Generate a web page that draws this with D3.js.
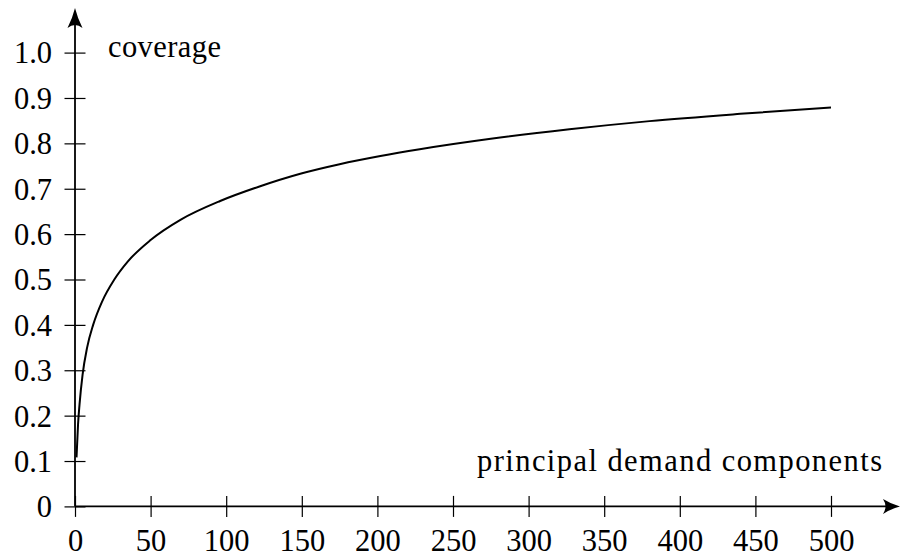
<!DOCTYPE html>
<html>
<head>
<meta charset="utf-8">
<script src="https://cdn.jsdelivr.net/npm/d3@7"></script>
<style>
  html, body { margin: 0; padding: 0; background: #fff; }
  svg { display: block; }
  text { font-family: "Liberation Serif", "DejaVu Serif", serif; fill: #000; }
</style>
</head>
<body>
<div id="chart"></div>
<script>
// number of components vs. share of demand covered
const components = [1, 2, 3, 5, 8, 12, 18, 26, 35, 50, 70, 96, 122, 149, 175, 202, 228, 275, 327, 380, 440, 500];
const coverage = [0.108, 0.18, 0.225, 0.29, 0.35, 0.40, 0.452, 0.50, 0.54, 0.587, 0.632, 0.673, 0.705, 0.733, 0.754, 0.772, 0.787, 0.810, 0.831, 0.849, 0.865, 0.879];

const xTicks = [0, 50, 100, 150, 200, 250, 300, 350, 400, 450, 500];
const yTicks = [0, 0.1, 0.2, 0.3, 0.4, 0.5, 0.6, 0.7, 0.8, 0.9, 1.0];
const yTickLabels = ["0", "0.1", "0.2", "0.3", "0.4", "0.5", "0.6", "0.7", "0.8", "0.9", "1.0"];

(function () {
  const W = 902, H = 558;
  const fontSize = 30.5;
  const tick = 10.5;

  const svg = d3.select("#chart").append("svg")
    .attr("width", W).attr("height", H)
    .attr("viewBox", `0 0 ${W} ${H}`);

  const x = d3.scaleLinear().domain([0, 500]).range([75, 831]);
  const y = d3.scaleLinear().domain([0, 1]).range([506.4, 52.6]);

  const x0 = x(0), y0 = y(0);
  const xEnd = 900, yEnd = 8;

  // axes lines
  svg.append("line")
    .attr("x1", x0).attr("y1", y0).attr("x2", xEnd - 8).attr("y2", y0)
    .attr("stroke", "#000").attr("stroke-width", 1.8);
  svg.append("line")
    .attr("x1", x0).attr("y1", y0).attr("x2", x0).attr("y2", yEnd + 8)
    .attr("stroke", "#000").attr("stroke-width", 1.8);

  // arrow heads
  svg.append("path")
    .attr("d", `M${xEnd},${y0} Q${xEnd - 9},${y0 - 2.5} ${xEnd - 17},${y0 - 7.5}
      Q${xEnd - 12},${y0} ${xEnd - 17},${y0 + 7.5} Q${xEnd - 9},${y0 + 2.5} ${xEnd},${y0} Z`)
    .attr("fill", "#000");
  svg.append("path")
    .attr("d", `M${x0},${yEnd} Q${x0 - 2.5},${yEnd + 10} ${x0 - 7.5},${yEnd + 20}
      Q${x0},${yEnd + 14} ${x0 + 7.5},${yEnd + 20} Q${x0 + 2.5},${yEnd + 10} ${x0},${yEnd} Z`)
    .attr("fill", "#000");

  // x axis ticks + labels
  const xAxis = svg.append("g")
    .attr("transform", `translate(0,${y0})`)
    .call(d3.axisBottom(x).tickValues(xTicks).tickSize(tick).tickFormat(d3.format("d")));
  xAxis.select(".domain").remove();
  xAxis.selectAll(".tick line")
    .attr("y1", -tick).attr("y2", tick)
    .attr("stroke", "#000").attr("stroke-width", 1.2);
  xAxis.selectAll(".tick text")
    .attr("y", 45).attr("dy", 0)
    .attr("font-size", fontSize)
    .attr("font-family", "Liberation Serif, DejaVu Serif, serif")
    .attr("fill", "#000");

  // y axis ticks + labels
  const yAxis = svg.append("g")
    .attr("transform", `translate(${x0},0)`)
    .call(d3.axisLeft(y).tickValues(yTicks).tickSize(tick)
      .tickFormat((d, i) => yTickLabels[i]));
  yAxis.select(".domain").remove();
  yAxis.selectAll(".tick line")
    .attr("x1", -tick).attr("x2", tick)
    .attr("stroke", "#000").attr("stroke-width", 1.2);
  yAxis.selectAll(".tick text")
    .attr("x", -23).attr("dy", "0.34em")
    .attr("font-size", fontSize)
    .attr("font-family", "Liberation Serif, DejaVu Serif, serif")
    .attr("fill", "#000");

  // axis titles
  svg.append("text")
    .attr("x", 108).attr("y", 57)
    .attr("font-size", fontSize)
    .attr("textLength", 113).attr("lengthAdjust", "spacing")
    .text("coverage");
  svg.append("text")
    .attr("x", 477).attr("y", 471)
    .attr("font-size", fontSize)
    .attr("textLength", 405).attr("lengthAdjust", "spacing")
    .text("principal demand components");

  // curve
  const data = components.map((c, i) => ({ c: c, v: coverage[i] }));
  svg.append("path")
    .datum(data)
    .attr("fill", "none")
    .attr("stroke", "#000")
    .attr("stroke-width", 2)
    .attr("d", d3.line()
      .x((d) => x(d.c))
      .y((d) => y(d.v))
      .curve(d3.curveMonotoneX));
})();
</script>
</body>
</html>
